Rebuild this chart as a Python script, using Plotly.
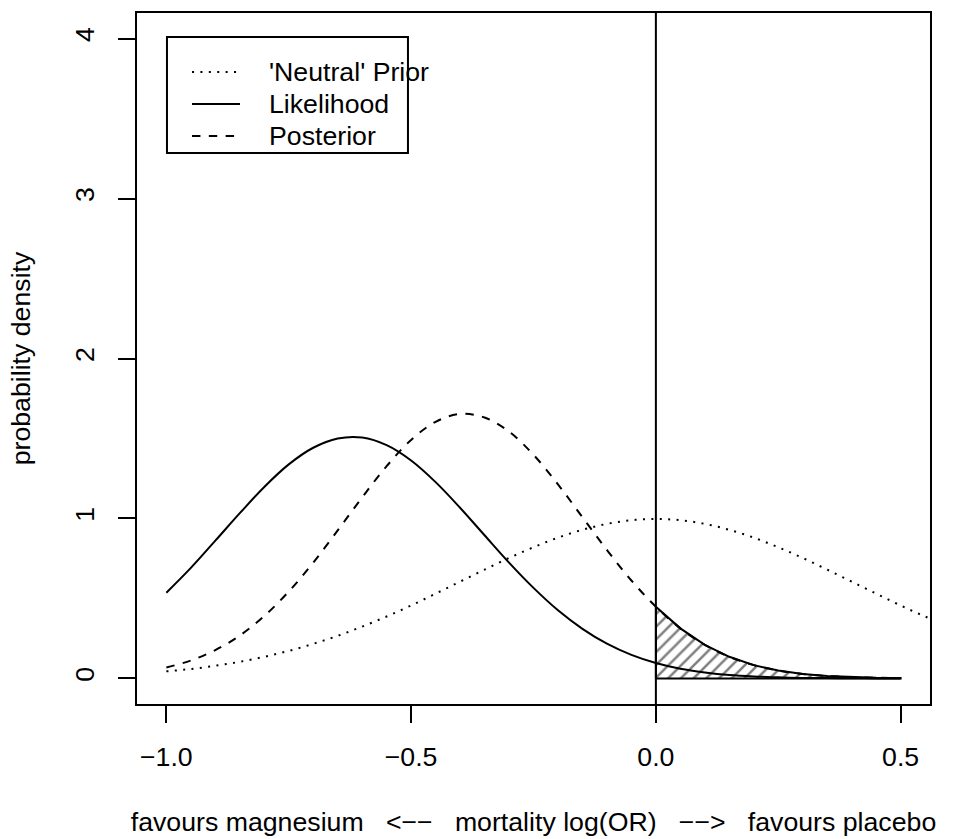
import plotly.graph_objects as go

# ---- data ----
x_grid = [-1.00, -0.95, -0.90, -0.85, -0.80, -0.75, -0.70, -0.65, -0.60, -0.55,
          -0.50, -0.45, -0.40, -0.35, -0.30, -0.25, -0.20, -0.15, -0.10, -0.05,
          0.00, 0.05, 0.10, 0.15, 0.20, 0.25, 0.30, 0.35, 0.40, 0.45, 0.50]

likelihood = [0.536, 0.691, 0.861, 1.033, 1.197, 1.338, 1.442, 1.500, 1.506, 1.458,
              1.362, 1.227, 1.067, 0.895, 0.724, 0.566, 0.426, 0.310, 0.217, 0.147,
              0.096, 0.060, 0.037, 0.021, 0.012, 0.007, 0.003, 0.002, 0.001, 0.000, 0.000]

posterior = [0.068, 0.112, 0.177, 0.268, 0.390, 0.543, 0.724, 0.925, 1.132, 1.327,
             1.491, 1.604, 1.653, 1.631, 1.543, 1.398, 1.213, 1.008, 0.803, 0.612,
             0.448, 0.313, 0.210, 0.135, 0.083, 0.049, 0.028, 0.015, 0.008, 0.004, 0.002]

prior_x = [-1.00, -0.95, -0.90, -0.85, -0.80, -0.75, -0.70, -0.65, -0.60, -0.55,
           -0.50, -0.45, -0.40, -0.35, -0.30, -0.25, -0.20, -0.15, -0.10, -0.05,
           0.00, 0.05, 0.10, 0.15, 0.20, 0.25, 0.30, 0.35, 0.40, 0.45, 0.50,
           0.55, 0.60]

prior = [0.044, 0.059, 0.079, 0.104, 0.135, 0.172, 0.216, 0.266, 0.324, 0.387,
         0.456, 0.530, 0.605, 0.680, 0.753, 0.820, 0.880, 0.929, 0.966, 0.989,
         0.997, 0.989, 0.966, 0.929, 0.880, 0.820, 0.753, 0.680, 0.605, 0.530, 0.456,
         0.387, 0.324]

series_names = ["'Neutral' Prior", "Likelihood", "Posterior"]
x_ticks = [-1.0, -0.5, 0.0, 0.5]
x_tick_labels = ["\u22121.0", "\u22120.5", "0.0", "0.5"]
y_ticks = [0, 1, 2, 3, 4]
y_tick_labels = ["0", "1", "2", "3", "4"]
x_range = [-1.06, 0.56]
y_range = [-0.16, 4.16]
shade_from = 0.0

# ---- styles ----
FONT = "Liberation Sans, Arial, Helvetica, sans-serif"
FS = 26.7
LW = 2
DOT = "2px,6.4px"
DASH = "8.4px,8.4px"
styles = [dict(dash=DOT), dict(dash="solid"), dict(dash=DASH)]

fig = go.Figure()

# shaded tail area of the posterior (x >= 0)
tail_x = [x for x in x_grid if x >= shade_from]
tail_y = [p for x, p in zip(x_grid, posterior) if x >= shade_from]
poly_x = [tail_x[0]] + tail_x + [tail_x[-1], tail_x[0]]
poly_y = [0] + tail_y + [0, 0]
fig.add_trace(go.Scatter(
    x=poly_x, y=poly_y, mode="lines", fill="toself",
    fillcolor="rgba(0,0,0,0)",
    fillpattern=dict(shape="/", fgcolor="black", bgcolor="rgba(0,0,0,0)",
                     size=9, solidity=0.28),
    line=dict(color="black", width=LW),
    showlegend=False, hoverinfo="skip"))

curves = [(prior_x, prior), (x_grid, likelihood), (x_grid, posterior)]
for (xs, ys), name, st in zip(curves, series_names, styles):
    fig.add_trace(go.Scatter(
        x=xs, y=ys, mode="lines", name=name,
        line=dict(color="black", width=LW, dash=st["dash"], shape="spline", smoothing=1.0),
        showlegend=False))

# vertical reference line at 0
fig.add_shape(type="line", xref="x", yref="paper", x0=0, x1=0, y0=0, y1=1,
              line=dict(color="black", width=LW))

# ---- legend drawn as a framed box in the top-left ----
lg_left, lg_right, lg_top, lg_bottom = 0.0378, 0.3417, 0.9653, 0.7974
fig.add_shape(type="rect", xref="paper", yref="paper",
              x0=lg_left, x1=lg_right, y0=lg_bottom, y1=lg_top,
              line=dict(color="black", width=LW), fillcolor="white", layer="above")
row_y = [0.9146, 0.8683, 0.8220]
for name, st, ry in zip(series_names, styles, row_y):
    fig.add_shape(type="line", xref="paper", yref="paper",
                  x0=0.0694, x1=0.1299, y0=ry, y1=ry,
                  line=dict(color="black", width=LW, dash=st["dash"]), layer="above")
    fig.add_annotation(x=0.1639, y=ry, xref="paper", yref="paper", text=name,
                       showarrow=False, xanchor="left", yanchor="middle",
                       font=dict(family=FONT, size=FS, color="black"))

nb = "\u00a0\u00a0\u00a0"
xtitle = ("favours magnesium" + nb + "<\u2212\u2212" + nb + "mortality log(OR)" + nb +
          "\u2212\u2212>" + nb + "favours placebo")

fig.update_layout(
    width=957, height=839,
    margin=dict(l=137, r=27, t=13, b=135, autoexpand=False),
    paper_bgcolor="white", plot_bgcolor="white",
    font=dict(family=FONT, size=FS, color="black"),
    showlegend=False,
    xaxis=dict(range=x_range, tickmode="array", tickvals=x_ticks, ticktext=x_tick_labels,
               ticks="outside", ticklen=17, tickwidth=LW, tickcolor="black",
               ticklabelstandoff=11, automargin=False,
               showline=True, mirror=True, linecolor="black", linewidth=LW,
               showgrid=False, zeroline=False,
               tickfont=dict(family=FONT, size=FS, color="black"),
               title=dict(text=xtitle, font=dict(family=FONT, size=FS, color="black"),
                          standoff=41)),
    yaxis=dict(range=y_range, tickmode="array", tickvals=y_ticks, ticktext=y_tick_labels,
               ticks="outside", ticklen=17, tickwidth=LW, tickcolor="black",
               tickangle=-90, ticklabelstandoff=13, automargin=False,
               showline=True, mirror=True, linecolor="black", linewidth=LW,
               showgrid=False, zeroline=False,
               tickfont=dict(family=FONT, size=FS, color="black"),
               title=dict(text="probability density",
                          font=dict(family=FONT, size=FS, color="black"),
                          standoff=32)),
)

fig.write_html("out.html")
